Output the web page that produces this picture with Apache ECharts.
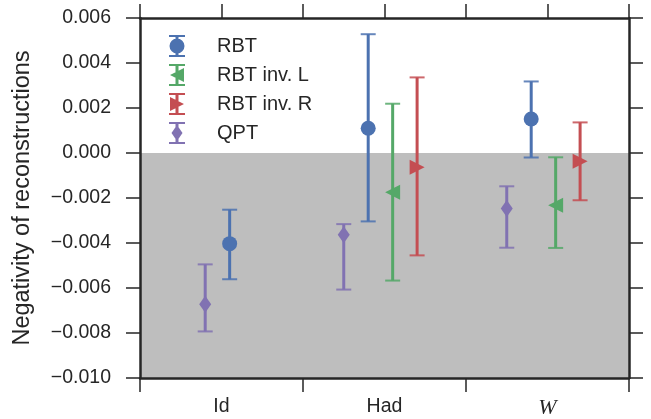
<!DOCTYPE html>
<html>
<head>
<meta charset="utf-8" />
<script src="https://cdn.jsdelivr.net/npm/echarts@6/dist/echarts.min.js"></script>
<style>
  body { margin: 0; background: #fff; }
  #chart { width: 651px; height: 419px; }
</style>
</head>
<body>
<div id="chart"></div>
<script>
// categories and series data
var categories = ['Id', 'Had', 'W'];
var seriesNames = ['RBT', 'RBT inv. L', 'RBT inv. R', 'QPT'];
// x position inside the 0..3 category range, value, low end, high end
var rbt   = [[0.55, -0.00403, -0.00561, -0.00252], [1.40, 0.00110, -0.00304, 0.00528], [2.40, 0.00151, -0.00020, 0.00318]];
var invL  = [[1.55, -0.00174, -0.00567, 0.00219], [2.55, -0.00232, -0.00422, -0.00019]];
var invR  = [[1.70, -0.00063, -0.00455, 0.00336], [2.70, -0.00037, -0.00210, 0.00136]];
var qpt   = [[0.40, -0.00672, -0.00793, -0.00495], [1.25, -0.00363, -0.00607, -0.00316], [2.25, -0.00247, -0.00421, -0.00148]];
var yTicks = [-0.010, -0.008, -0.006, -0.004, -0.002, 0.000, 0.002, 0.004, 0.006];

var colors = ['#4C72B0', '#55A868', '#C44E52', '#8172B2'];
var ink = '#262626';
var font = 'Liberation Sans';

// legend icons: error bar + marker
var bar = 'M0,0 h16 v2 h-16 Z M0,20 h16 v2 h-16 Z M6.5,0 h3 v22 h-3 Z ';
var icons = [
  'path://' + bar + 'M0.5,11 A7.5,7.5 0 1,1 15.5,11 A7.5,7.5 0 1,1 0.5,11 Z',
  'path://' + bar + 'M1,11 L15,4 L15,18 Z',
  'path://' + bar + 'M15,11 L1,18 L1,4 Z',
  'path://' + bar + 'M8,3 L13.5,11 L8,19 L2.5,11 Z'
];

var allData = [rbt, invL, invR, qpt];
var symbols = ['circle', 'triangle', 'triangle', 'diamond'];
var symRot = [0, 90, -90, 0];
var symSize = [15, [15, 15], [15, 15], [12, 17]];

function errorBar(params, api) {
  var x = api.value(0);
  var top = api.coord([x, api.value(3)]);
  var bot = api.coord([x, api.value(2)]);
  var c = api.visual('color');
  var cap = { stroke: c, lineWidth: 2, opacity: 0.85 };
  return {
    type: 'group',
    children: [
      { type: 'line', shape: { x1: top[0], y1: top[1], x2: bot[0], y2: bot[1] }, style: { stroke: c, lineWidth: 3 } },
      { type: 'line', shape: { x1: top[0] - 7.5, y1: top[1], x2: top[0] + 7.5, y2: top[1] }, style: cap },
      { type: 'line', shape: { x1: bot[0] - 7.5, y1: bot[1], x2: bot[0] + 7.5, y2: bot[1] }, style: cap }
    ]
  };
}

var series = [{
  type: 'scatter',
  xAxisIndex: 2,
  yAxisIndex: 0,
  data: [],
  silent: true,
  markArea: {
    silent: true,
    itemStyle: { color: '#bebebe' },
    data: [[{ yAxis: 0 }, { yAxis: yTicks[0] }]]
  },
  z: 1
}];

allData.forEach(function (d, i) {
  series.push({
    name: seriesNames[i],
    type: 'custom',
    xAxisIndex: 2,
    yAxisIndex: 0,
    renderItem: errorBar,
    itemStyle: { color: colors[i] },
    encode: { x: 0, y: [1, 2, 3] },
    data: d,
    z: 3
  });
  series.push({
    name: seriesNames[i],
    type: 'scatter',
    xAxisIndex: 2,
    yAxisIndex: 0,
    symbol: symbols[i],
    symbolRotate: symRot[i],
    symbolSize: symSize[i],
    itemStyle: { color: colors[i], opacity: 1 },
    data: d.map(function (p) { return [p[0], p[1]]; }),
    z: 4
  });
});

function axisLine() { return { show: true, onZero: false, lineStyle: { color: ink, width: 2.5 } }; }
var axisTick = { show: true, inside: false, length: 14, lineStyle: { color: ink, width: 1.5 } };

var chart = echarts.init(document.getElementById('chart'));
chart.setOption({
  animation: false,
  backgroundColor: '#fff',
  grid: { left: 140, right: 22, top: 18, bottom: 40 },
  legend: {
    orient: 'vertical',
    left: 164,
    top: 30,
    itemWidth: 16,
    itemHeight: 22,
    itemGap: 7,
    textStyle: { fontFamily: font, fontSize: 20, color: ink, padding: [0, 0, 0, 27] },
    data: seriesNames.map(function (n, i) {
      return { name: n, icon: icons[i], itemStyle: { color: colors[i] } };
    })
  },
  xAxis: [
    {
      type: 'category',
      data: categories,
      position: 'bottom',
      boundaryGap: true,
      z: 10,
      axisLine: axisLine(),
      axisTick: axisTick,
      splitLine: { show: false },
      axisLabel: {
        margin: 19,
        fontFamily: font,
        fontSize: 19.5,
        color: ink,
        formatter: function (v) { return v === 'W' ? '{m|W}' : v; },
        rich: { m: { fontFamily: 'Liberation Serif', fontStyle: 'italic', fontSize: 22, color: ink } }
      }
    },
    {
      type: 'category',
      data: ['', '', '', '', '', ''],
      position: 'top',
      boundaryGap: true,
      z: 10,
      axisLine: axisLine(),
      axisTick: axisTick,
      axisLabel: { show: false },
      splitLine: { show: false }
    },
    {
      type: 'value',
      min: 0,
      max: categories.length,
      show: false
    }
  ],
  yAxis: [
    {
      type: 'value',
      min: yTicks[0],
      max: yTicks[yTicks.length - 1],
      interval: 0.002,
      position: 'left',
      z: 10,
      name: 'Negativity of reconstructions',
      nameLocation: 'middle',
      nameGap: 105,
      nameTextStyle: { fontFamily: font, fontSize: 23.5, color: ink },
      axisLine: axisLine(),
      axisTick: axisTick,
      splitLine: { show: false },
      axisLabel: {
        margin: 29,
        fontFamily: font,
        fontSize: 19.5,
        color: ink,
        formatter: function (v) { return v.toFixed(3).replace('-', '\u2212'); }
      }
    },
    {
      type: 'value',
      min: yTicks[0],
      max: yTicks[yTicks.length - 1],
      interval: 0.002,
      position: 'right',
      z: 10,
      axisLine: axisLine(),
      axisTick: axisTick,
      axisLabel: { show: false },
      splitLine: { show: false }
    }
  ],
  series: series
});
</script>
</body>
</html>
